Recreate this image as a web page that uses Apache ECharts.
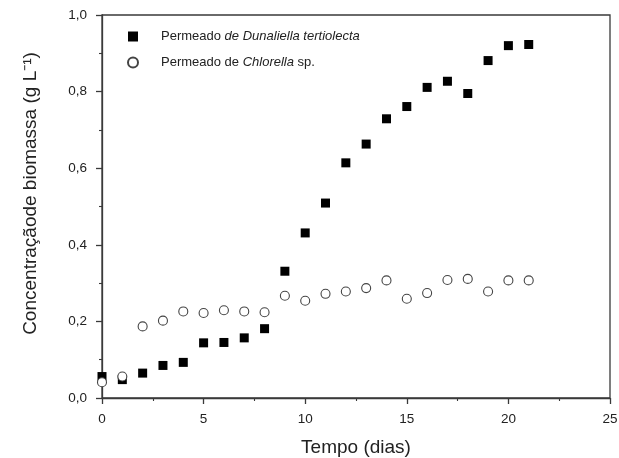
<!DOCTYPE html>
<html>
<head>
<meta charset="utf-8">
<script src="https://cdn.jsdelivr.net/npm/echarts@6/dist/echarts.min.js"></script>
<style>
html,body{margin:0;padding:0;background:#fff;}
#graph1{width:619px;height:458px;}
</style>
</head>
<body>
<div id="graph1"></div>
<script>
// dados
var dias=[0,1,2,3,4,5,6,7,8,9,10,11,12,13,14,15,16,17,18,19,20,21];
var dunaliella=[0.056,0.048,0.065,0.085,0.093,0.144,0.145,0.157,0.181,0.331,0.431,0.509,0.614,0.663,0.729,0.761,0.811,0.827,0.795,0.881,0.920,0.923];
var chlorella=[0.041,0.056,0.187,0.202,0.226,0.222,0.229,0.226,0.224,0.267,0.254,0.272,0.278,0.287,0.307,0.259,0.274,0.308,0.311,0.278,0.307,0.307];
var xTicks=[0,5,10,15,20,25];
var yTicks=[0,0.2,0.4,0.6,0.8,1.0];

var nomeD="Dunaliella";
var nomeC="Chlorella";

var fonte="Liberation Sans, Arial, sans-serif";
var corEixo="#3a3a3a";

function pares(xs,ys){
  var out=[];
  for(var i=0;i<xs.length;i++){ out.push([xs[i],ys[i]]); }
  return out;
}

var main=document.getElementById("graph1");
var myChart=echarts.init(main);

var option={
  animation:false,
  backgroundColor:"#fff",
  textStyle:{fontFamily:fonte},
  legend:{
    orient:'vertical',
    left:122,
    top:25,
    itemWidth:10,
    itemHeight:10,
    itemGap:13,
    data:[nomeD,nomeC],
    textStyle:{
      fontFamily:fonte,
      fontSize:13,
      color:"#222",
      padding:[0,0,0,18],
      rich:{
        n:{fontFamily:fonte,fontSize:13,color:"#222"},
        i:{fontFamily:fonte,fontSize:13,color:"#222",fontStyle:'italic'}
      }
    },
    formatter:function(name){
      if(name===nomeD){ return "{n|Permeado }{i|de Dunaliella tertiolecta}"; }
      return "{n|Permeado de }{i|Chlorella}{n| sp.}";
    }
  },
  grid:{
    left:102,
    right:9,
    top:15,
    bottom:60,
    containLabel:false,
    outerBoundsMode:'none',
    show:true,
    borderColor:corEixo,
    borderWidth:1.3,
    backgroundColor:"transparent"
  },
  xAxis:{
    type:'value',
    min:xTicks[0],
    max:xTicks[xTicks.length-1],
    interval:5,
    name:"Tempo (dias)",
    nameLocation:'middle',
    nameGap:40,
    nameTextStyle:{fontFamily:fonte,fontSize:19,color:"#222"},
    axisLine:{show:true,onZero:false,lineStyle:{color:corEixo,width:1.3}},
    axisTick:{show:true,inside:false,length:6,lineStyle:{color:corEixo,width:1.3}},
    minorTick:{show:true,splitNumber:2,length:3,lineStyle:{color:corEixo,width:1.1}},
    splitLine:{show:false},
    axisLabel:{fontFamily:fonte,fontSize:13.5,color:"#222",margin:14}
  },
  yAxis:{
    type:'value',
    min:yTicks[0],
    max:yTicks[yTicks.length-1],
    interval:0.2,
    name:"Concentraçãode biomassa (g L⁻¹)",
    nameLocation:'middle',
    nameGap:62,
    nameTextStyle:{fontFamily:fonte,fontSize:19,color:"#222",padding:[0,0,0,26]},
    axisLine:{show:true,onZero:false,lineStyle:{color:corEixo,width:1.3}},
    axisTick:{show:true,inside:false,length:6,lineStyle:{color:corEixo,width:1.3}},
    minorTick:{show:true,splitNumber:2,length:3,lineStyle:{color:corEixo,width:1.1}},
    splitLine:{show:false},
    axisLabel:{
      fontFamily:fonte,fontSize:13.5,color:"#222",margin:15,
      formatter:function(v){ return v.toFixed(1).replace('.',','); }
    }
  },
  series:[
    {
      name:nomeD,
      type:'scatter',
      symbol:'rect',
      symbolSize:9,
      itemStyle:{color:"#000",opacity:1},
      data:pares(dias,dunaliella),
      z:3
    },
    {
      name:nomeC,
      type:'scatter',
      symbol:'circle',
      symbolSize:9,
      itemStyle:{color:"#fff",borderColor:"#444",borderWidth:1.1,opacity:1},
      data:pares(dias,chlorella),
      z:4
    }
  ]
};

myChart.setOption(option);
</script>
</body>
</html>
